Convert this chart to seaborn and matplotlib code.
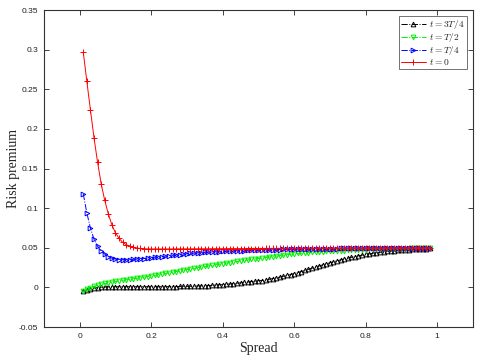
import numpy as np
import matplotlib
matplotlib.use("Agg")
import matplotlib.pyplot as plt
import seaborn as sns

spread = np.round(np.arange(1, 99) * 0.01, 2)

risk_3T4 = [
    -0.0050, -0.0030, -0.0017, -0.0008, -0.0002, 0.0002, 0.0005, 0.0007, 0.0008, 0.0009,
    0.0009, 0.0009, 0.0009, 0.0009, 0.0009, 0.0009, 0.0009, 0.0009, 0.0009, 0.0009,
    0.0009, 0.0009, 0.0010, 0.0010, 0.0010, 0.0011, 0.0011, 0.0012, 0.0013, 0.0014,
    0.0015, 0.0016, 0.0018, 0.0020, 0.0022, 0.0024, 0.0027, 0.0030, 0.0033, 0.0036,
    0.0040, 0.0044, 0.0048, 0.0053, 0.0058, 0.0063, 0.0068, 0.0074, 0.0080, 0.0086,
    0.0087, 0.0095, 0.0103, 0.0112, 0.0121, 0.0131, 0.0141, 0.0152, 0.0163, 0.0175,
    0.0188, 0.0201, 0.0215, 0.0229, 0.0243, 0.0257, 0.0271, 0.0285, 0.0298, 0.0311,
    0.0324, 0.0336, 0.0348, 0.0359, 0.0370, 0.0380, 0.0390, 0.0399, 0.0408, 0.0416,
    0.0424, 0.0431, 0.0438, 0.0444, 0.0450, 0.0455, 0.0460, 0.0464, 0.0468, 0.0472,
    0.0475, 0.0478, 0.0481, 0.0484, 0.0486, 0.0488, 0.0490, 0.0492,
]

risk_T2 = [
    -0.0050, -0.0025, -0.0005, 0.0012, 0.0028, 0.0040, 0.0050, 0.0060, 0.0068, 0.0076,
    0.0083, 0.0090, 0.0097, 0.0104, 0.0110, 0.0117, 0.0124, 0.0131, 0.0138, 0.0145,
    0.0153, 0.0161, 0.0169, 0.0177, 0.0185, 0.0193, 0.0201, 0.0209, 0.0217, 0.0225,
    0.0233, 0.0241, 0.0249, 0.0257, 0.0265, 0.0272, 0.0279, 0.0286, 0.0293, 0.0300,
    0.0307, 0.0314, 0.0321, 0.0328, 0.0335, 0.0341, 0.0347, 0.0353, 0.0359, 0.0365,
    0.0371, 0.0377, 0.0383, 0.0389, 0.0395, 0.0401, 0.0407, 0.0413, 0.0419, 0.0425,
    0.0429, 0.0433, 0.0437, 0.0440, 0.0443, 0.0446, 0.0449, 0.0452, 0.0455, 0.0458,
    0.0460, 0.0462, 0.0464, 0.0466, 0.0468, 0.0470, 0.0472, 0.0474, 0.0476, 0.0478,
    0.0480, 0.0481, 0.0482, 0.0483, 0.0484, 0.0485, 0.0486, 0.0487, 0.0488, 0.0489,
    0.0490, 0.0491, 0.0492, 0.0493, 0.0494, 0.0495, 0.0496, 0.0497,
]

risk_T4 = [
    0.1180, 0.0940, 0.0750, 0.0610, 0.0520, 0.0460, 0.0420, 0.0390, 0.0370, 0.0358,
    0.0352, 0.0350, 0.0350, 0.0352, 0.0355, 0.0358, 0.0361, 0.0365, 0.0370, 0.0375,
    0.0380, 0.0385, 0.0390, 0.0395, 0.0400, 0.0405, 0.0410, 0.0415, 0.0420, 0.0425,
    0.0429, 0.0432, 0.0436, 0.0439, 0.0442, 0.0445, 0.0447, 0.0450, 0.0452, 0.0455,
    0.0457, 0.0459, 0.0461, 0.0463, 0.0465, 0.0466, 0.0468, 0.0469, 0.0471, 0.0472,
    0.0473, 0.0474, 0.0475, 0.0476, 0.0477, 0.0478, 0.0479, 0.0480, 0.0481, 0.0482,
    0.0483, 0.0484, 0.0484, 0.0485, 0.0486, 0.0487, 0.0487, 0.0488, 0.0489, 0.0490,
    0.0490, 0.0491, 0.0492, 0.0492, 0.0493, 0.0493, 0.0494, 0.0495, 0.0495, 0.0496,
    0.0496, 0.0497, 0.0497, 0.0498, 0.0498, 0.0499, 0.0499, 0.0499, 0.0500, 0.0500,
    0.0501, 0.0501, 0.0501, 0.0502, 0.0502, 0.0502, 0.0503, 0.0503,
]

risk_0 = [
    0.2970, 0.2600, 0.2240, 0.1890, 0.1580, 0.1310, 0.1100, 0.0930, 0.0790, 0.0690,
    0.0620, 0.0570, 0.0540, 0.0520, 0.0505, 0.0497, 0.0492, 0.0489, 0.0487, 0.0486,
    0.0486, 0.0486, 0.0486, 0.0486, 0.0486, 0.0486, 0.0487, 0.0487, 0.0487, 0.0487,
    0.0487, 0.0488, 0.0488, 0.0488, 0.0488, 0.0488, 0.0489, 0.0489, 0.0489, 0.0489,
    0.0489, 0.0490, 0.0490, 0.0490, 0.0490, 0.0490, 0.0491, 0.0491, 0.0491, 0.0491,
    0.0491, 0.0492, 0.0492, 0.0492, 0.0492, 0.0493, 0.0493, 0.0493, 0.0493, 0.0494,
    0.0494, 0.0494, 0.0494, 0.0495, 0.0495, 0.0495, 0.0495, 0.0496, 0.0496, 0.0496,
    0.0496, 0.0497, 0.0497, 0.0497, 0.0497, 0.0498, 0.0498, 0.0498, 0.0498, 0.0498,
    0.0499, 0.0499, 0.0499, 0.0499, 0.0499, 0.0500, 0.0500, 0.0500, 0.0500, 0.0500,
    0.0500, 0.0501, 0.0501, 0.0501, 0.0501, 0.0501, 0.0502, 0.0502,
]

labels = [r"$t=3T/4$", r"$t=T/2$", r"$t=T/4$", r"$t=0$"]
colors = ["black", "#00ee00", "blue", "red"]
markers = ["^", "v", ">", "+"]
styles = ["-.", "-.", "-.", "-"]

x_ticks = [0, 0.2, 0.4, 0.6, 0.8, 1.0]
x_tick_labels = ["0", "0.2", "0.4", "0.6", "0.8", "1"]
y_ticks = [-0.05, 0, 0.05, 0.1, 0.15, 0.2, 0.25, 0.3, 0.35]
y_tick_labels = ["-0.05", "0", "0.05", "0.1", "0.15", "0.2", "0.25", "0.3", "0.35"]

sns.set_style("white")
plt.rcParams["mathtext.fontset"] = "cm"

fig = plt.figure(figsize=(4.83, 3.61), dpi=100)
ax = fig.add_axes([0.091, 0.094, 0.888, 0.878])

series = [risk_3T4, risk_T2, risk_T4, risk_0]
for ys, lab, c, m, ls in zip(series, labels, colors, markers, styles):
    is_plus = m == "+"
    sns.lineplot(
        x=spread, y=ys, ax=ax, color=c, linestyle=ls, linewidth=0.7,
        marker=m, markersize=4.2 if is_plus else 3.4,
        markerfacecolor="none", markeredgecolor=c, markeredgewidth=0.7,
        label=lab, estimator=None, sort=False,
    )

ax.set_xlim(-0.1, 1.1)
ax.set_ylim(-0.05, 0.35)
ax.set_xticks(x_ticks)
ax.set_xticklabels(x_tick_labels)
ax.set_yticks(y_ticks)
ax.set_yticklabels(y_tick_labels)
ax.tick_params(direction="in", length=3.5, width=0.6, top=True, right=True,
               labelsize=6, colors="#222222", pad=4,
               bottom=True, left=True)
for lab in ax.get_xticklabels() + ax.get_yticklabels():
    lab.set_fontfamily("Liberation Sans")
for sp in ax.spines.values():
    sp.set_visible(True)
    sp.set_color("#333333")
    sp.set_linewidth(0.8)

ax.set_xlabel("Spread", fontfamily="Liberation Serif", fontsize=10, labelpad=2)
ax.set_ylabel("Risk premium", fontfamily="Liberation Serif", fontsize=10, labelpad=-1)

leg = ax.legend(loc="upper right", fontsize=6.8, frameon=True, fancybox=False,
                edgecolor="#333333", handlelength=2.6, handletextpad=0.4,
                borderpad=0.25, labelspacing=0.0, borderaxespad=0.6)
leg.get_frame().set_linewidth(0.6)

fig.savefig("out.png", dpi=100)
